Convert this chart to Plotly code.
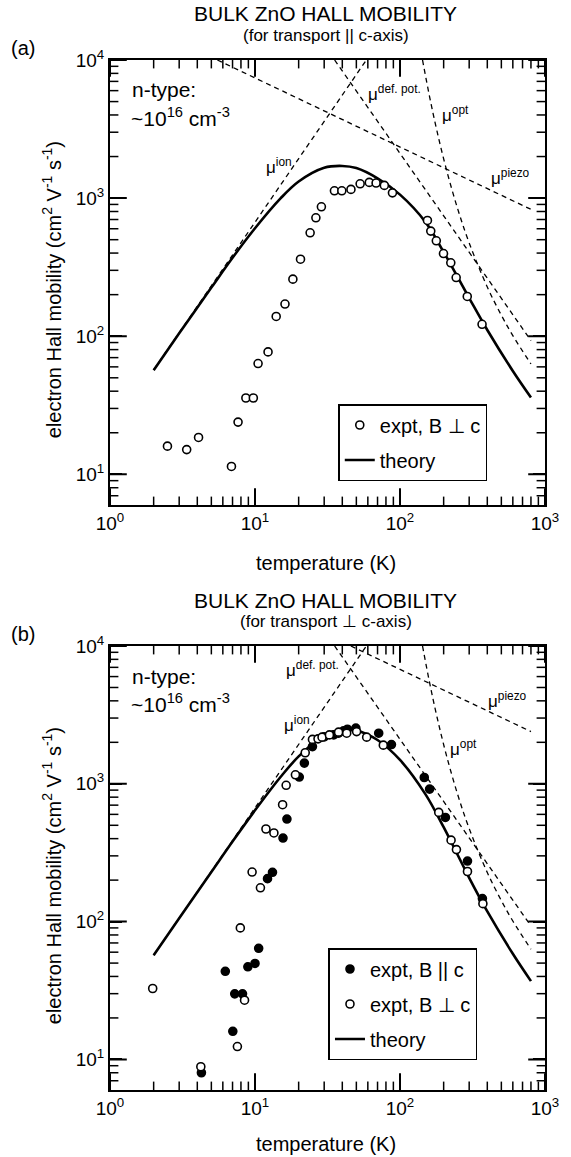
import plotly.graph_objects as go

# ---------------- data ----------------
# Panel (a): transport || c-axis
a_expt_T = [2.49, 3.38, 4.08, 6.88, 7.64, 8.65, 9.74, 10.5, 12.3, 14.0, 16.1, 18.25, 20.6,
            24.0, 26.3, 28.7, 35.3, 39.7, 45.9, 53.1, 61.4, 68.4, 78, 88.7, 154.6, 163, 178,
            199.5, 224, 244, 291, 368]
a_expt_mu = [16.0, 15.1, 18.5, 11.4, 23.9, 35.7, 35.7, 63.4, 77, 139, 171, 259, 361,
             561, 720, 865, 1130, 1130, 1156, 1270, 1300, 1285, 1236, 1092, 689, 577, 491,
             397, 340, 266, 194, 122]
theory_T = [2, 3, 5, 7, 10, 15, 20, 30, 40, 50, 70, 100, 150, 200, 300, 400, 600, 800]
a_theory_mu = [56.8, 105, 225, 370, 605, 995, 1320, 1660, 1710, 1650, 1390, 1060, 670, 407,
               189, 111, 56, 36]

# Scattering-limited mobilities (dashed lines)
ion_T = [2, 58.6]
ion_mu = [57, 10000]
defpot_T = [35.4, 800]
defpot_mu = [10000, 93]
opt_T = [143, 160, 180, 208, 250, 300, 400, 500, 600, 800]
opt_mu = [10000, 5417, 3053, 1641, 835, 474, 227, 142, 101, 63]
a_piezo_T = [5.5, 800]
a_piezo_mu = [10000, 829]

# Panel (b): transport perpendicular to c-axis
b_par_T = [4.27, 6.24, 7.03, 7.25, 8.2, 8.93, 10.0, 10.6, 12.2, 13.2, 15.6, 16.6, 20.2, 21.9,
           24.9, 30.0, 34.9, 37.7, 40.8, 43.4, 49.6, 71.3, 87.3, 147, 160, 205.6, 292, 370]
b_par_mu = [8.0, 43.6, 16.0, 29.9, 29.9, 47, 49.7, 64, 205, 228, 404, 555, 1119, 1413,
            1862, 2190, 2264, 2328, 2420, 2490, 2534, 2328, 1927, 1111, 915, 570, 275, 147]
b_perp_T = [1.97, 4.23, 7.56, 7.92, 8.47, 9.55, 10.9, 11.9, 13.5, 15.5, 16.4, 19.0, 22.2,
            24.9, 27.2, 29.0, 32.6, 37.7, 42.9, 50.2, 58.9, 76.7, 185, 225, 245, 292, 373]
b_perp_mu = [32.7, 8.85, 12.4, 90, 26.9, 229, 176, 470, 440, 705, 975, 1162, 1680,
             2100, 2119, 2180, 2264, 2370, 2328, 2393, 2180, 1907, 620, 390, 333, 231, 135]
b_theory_mu = [56.9, 105.7, 229, 381, 642, 1120, 1580, 2250, 2470, 2440, 2080, 1490, 838, 484,
               208, 118.5, 58.4, 37]
b_piezo_T = [45.8, 800]
b_piezo_mu = [10000, 2394]

x_tickvals = [1, 10, 100, 1000]
x_ticktext = ["10<sup>0</sup>", "10<sup>1</sup>", "10<sup>2</sup>", "10<sup>3</sup>"]
y_tickvals = [10, 100, 1000, 10000]
y_ticktext = ["10<sup>1</sup>", "10<sup>2</sup>", "10<sup>3</sup>", "10<sup>4</sup>"]
x_minor = [m * 10 ** e for e in range(0, 3) for m in range(2, 10)]
y_minor = [m * 10 ** e for e in range(0, 4) for m in range(2, 10) if m * 10 ** e > 6.0]

# ---------------- layout helpers ----------------
W, H = 571, 1157
L, R, T, B = 110, 17, 60, 67
PW, PH = W - L - R, H - T - B
FONT = "Liberation Sans, Arial, Helvetica, sans-serif"
X_RANGE = [0, 3]
Y_RANGE = [0.778, 4.0]


def px(x):
    return (x - L) / PW


def py(y):
    return (H - B - y) / PH


fig = go.Figure()

dash_style = dict(color="black", width=1.3, dash="5px,4px")


def tick_trace(xs, ys, symbol, size, width, xa, ya):
    fig.add_trace(go.Scatter(x=xs, y=ys, mode="markers", cliponaxis=True,
                             marker=dict(symbol=symbol, size=size, color="black",
                                         line=dict(color="black", width=width)),
                             showlegend=False, hoverinfo="skip", xaxis=xa, yaxis=ya))


def add_panel(xa, ya, theory_mu, piezo_T, piezo_mu, expt_sets, legend):
    # tick marks on all four sides, pointing inward (clipped by the plot area)
    x_lo, x_hi = 10 ** X_RANGE[0], 10 ** X_RANGE[1]
    y_lo, y_hi = 10 ** Y_RANGE[0], 10 ** Y_RANGE[1]
    for vals, size, width in [(x_tickvals, 24, 2), (x_minor, 12, 1.5)]:
        tick_trace(vals + vals, [y_lo] * len(vals) + [y_hi] * len(vals), "line-ns",
                   size, width, xa, ya)
    for vals, size, width in [(y_tickvals, 24, 2), (y_minor, 12, 1.5)]:
        tick_trace([x_lo] * len(vals) + [x_hi] * len(vals), vals + vals, "line-ew",
                   size, width, xa, ya)
    for tx, ty in [(ion_T, ion_mu), (defpot_T, defpot_mu), (opt_T, opt_mu), (piezo_T, piezo_mu)]:
        fig.add_trace(go.Scatter(x=tx, y=ty, mode="lines", line=dict(**dash_style, shape="spline"),
                                 showlegend=False, hoverinfo="skip", xaxis=xa, yaxis=ya))
    fig.add_trace(go.Scatter(x=theory_T, y=theory_mu, mode="lines", name="theory",
                             line=dict(color="black", width=2.6, shape="spline"),
                             xaxis=xa, yaxis=ya, legend=legend, legendrank=10,
                             legendgroup=legend + "th"))
    for i, (name, ex, ey, filled) in enumerate(expt_sets):
        fig.add_trace(go.Scatter(
            x=ex, y=ey, mode="markers", name=name,
            marker=dict(symbol="circle", size=8, color="black" if filled else "white",
                        line=dict(color="black", width=1.6)),
            xaxis=xa, yaxis=ya, legend=legend, legendrank=i + 1,
            legendgroup=legend + name))


add_panel("x", "y", a_theory_mu, a_piezo_T, a_piezo_mu,
          [("expt, B ⊥ c", a_expt_T, a_expt_mu, False)], "legend")
add_panel("x2", "y2", b_theory_mu, b_piezo_T, b_piezo_mu,
          [("expt, B || c", b_par_T, b_par_mu, True),
           ("expt, B ⊥ c", b_perp_T, b_perp_mu, False)], "legend2")


def xaxis(anchor):
    return dict(type="log", domain=[0, 1], anchor=anchor, range=X_RANGE,
                ticks="inside", ticklen=12, tickwidth=2, tickcolor="black",
                showline=True, linecolor="black", linewidth=2, mirror="allticks",
                tickmode="array", tickvals=x_tickvals, ticktext=x_ticktext,
                tickfont=dict(family=FONT, size=19, color="black"),
                gridcolor="white")


def yaxis(anchor, dom):
    return dict(type="log", domain=dom, anchor=anchor, range=Y_RANGE,
                ticks="inside", ticklen=12, tickwidth=2, tickcolor="black",
                showline=True, linecolor="black", linewidth=2, mirror="allticks",
                tickmode="array", tickvals=y_tickvals, ticktext=y_ticktext,
                tickfont=dict(family=FONT, size=19, color="black"),
                gridcolor="white")


legend_common = dict(xanchor="left", yanchor="top", bordercolor="black", borderwidth=1.5,
                     bgcolor="white", font=dict(family=FONT, size=20),
                     traceorder="grouped", tracegroupgap=6, itemwidth=30)

fig.update_layout(
    width=W, height=H,
    margin=dict(l=L, r=R, t=T, b=B),
    paper_bgcolor="white", plot_bgcolor="white",
    font=dict(family=FONT, color="black"),
    xaxis=xaxis("y"),
    yaxis=yaxis("x", [py(505), 1]),
    xaxis2=xaxis("y2"),
    yaxis2=yaxis("x2", [0, py(646)]),
    legend=dict(legend_common, x=px(343), y=py(404)),
    legend2=dict(legend_common, x=px(333), y=py(948)),
    showlegend=True,
)

ann = []


def text(x, y, s, size, xanchor="left", angle=0):
    ann.append(dict(x=px(x), y=py(y), xref="paper", yref="paper", text=s, showarrow=False,
                    xanchor=xanchor, yanchor="middle", textangle=angle,
                    font=dict(family=FONT, size=size, color="black")))


for off, sub, lab in [(0, "(for transport || c-axis)", "(a)"), (586, "(for transport ⊥ c-axis)", "(b)")]:
    text(330, 14 + off, "BULK ZnO HALL MOBILITY", 21, "center")
    text(330, 35 + off, sub, 17, "center")
    text(21, 48 + off, lab, 20, "center")
    text(130, 90 + off, "n-type:", 21)
    text(129, 117 + off, "~10<sup>16</sup> cm<sup>-3</sup>", 21)
    text(330, 563 + off - (5 if off else 0), "temperature (K)", 20, "center")
    text(50, 290 + off, "electron Hall mobility (cm<sup>2</sup> V<sup>-1</sup> s<sup>-1</sup>)", 20,
         "center", -90)

# curve labels, panel (a)
text(267, 166, "μ<sup>ion</sup>", 17)
text(371, 93, "μ<sup>def. pot.</sup>", 17)
text(447, 114, "μ<sup>opt</sup>", 17)
text(497, 177, "μ<sup>piezo</sup>", 17)
# curve labels, panel (b)
text(288, 669, "μ<sup>def. pot.</sup>", 17)
text(286, 724, "μ<sup>ion</sup>", 17)
text(494, 700, "μ<sup>piezo</sup>", 17)
text(455, 748, "μ<sup>opt</sup>", 17)

fig.update_layout(annotations=ann)
fig.write_html("out.html")
